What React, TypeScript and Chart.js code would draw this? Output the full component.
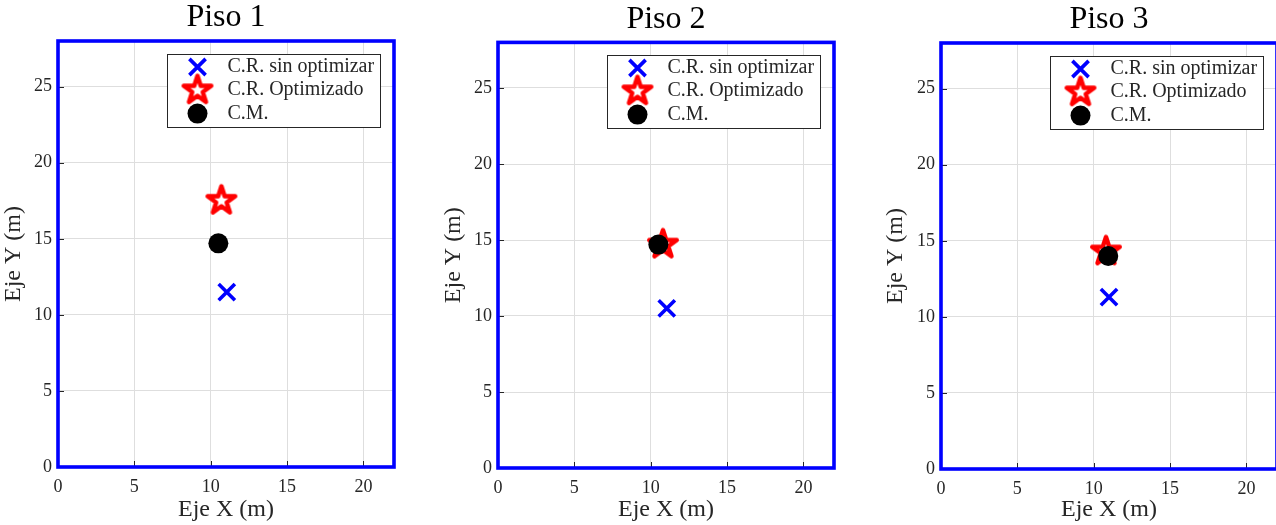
import React, { useEffect, useRef } from 'react';
import { Chart, registerables } from 'chart.js';
import { drawPoint } from 'chart.js/helpers';

Chart.register(...registerables);

// ---------- data ----------
const floorTitles = ['Piso 1', 'Piso 2', 'Piso 3'];
const legendLabels = ['C.R. sin optimizar', 'C.R. Optimizado', 'C.M.'];
const crSinOptX = [11.05, 11.05, 11.0];
const crSinOptY = [11.5, 10.5, 11.3];
const crOptX = [10.7, 10.8, 10.8];
const crOptY = [17.5, 14.7, 14.3];
const cmX = [10.5, 10.5, 10.95];
const cmY = [14.7, 14.7, 14.0];
const xTicks = [0, 5, 10, 15, 20];
const yTicks = [0, 5, 10, 15, 20, 25];
const xLimits = [0, 22];
const yLimits = [0, 28];
const xAxisLabel = 'Eje X (m)';
const yAxisLabel = 'Eje Y (m)';

// ---------- styles / layout ----------
const SERIF = '"Liberation Serif", "Times New Roman", serif';
const INK = '#262626';
const panels = [
  { left: 0, width: 430, padTop: 0, padRight: 36, yWidth: 58, xHeight: 58 },
  { left: 440, width: 430, padTop: 1.4, padRight: 36, yWidth: 58, xHeight: 57 },
  { left: 882, width: 430, padTop: 2, padRight: 35, yWidth: 59, xHeight: 56 },
];

function makeStar(): HTMLCanvasElement {
  const R = 14.5;
  const r = R * 0.382;
  const lw = 4.4;
  const size = Math.ceil(2 * (R + lw));
  const c = document.createElement('canvas');
  c.width = size;
  c.height = size;
  const g = c.getContext('2d')!;
  const cx = size / 2;
  const cy = size / 2;
  g.beginPath();
  for (let k = 0; k < 10; k++) {
    const rad = k % 2 === 0 ? R : r;
    const ang = -Math.PI / 2 + (k * Math.PI) / 5;
    const px = cx + rad * Math.cos(ang);
    const py = cy + rad * Math.sin(ang);
    if (k === 0) g.moveTo(px, py);
    else g.lineTo(px, py);
  }
  g.closePath();
  g.fillStyle = '#ffffff';
  g.fill();
  g.lineJoin = 'round';
  g.lineWidth = lw;
  g.strokeStyle = '#ff0000';
  g.stroke();
  return c;
}

const framePlugin = {
  id: 'frameAndLegend',
  afterDraw(chart: any) {
    const { ctx, chartArea: a, scales } = chart;
    ctx.save();
    // inward tick marks
    ctx.strokeStyle = INK;
    ctx.lineWidth = 1;
    ctx.beginPath();
    xTicks.forEach((v) => {
      if (v > xLimits[0] && v < xLimits[1]) {
        const px = Math.round(scales.x.getPixelForValue(v)) + 0.5;
        ctx.moveTo(px, a.bottom);
        ctx.lineTo(px, a.bottom - 6);
      }
    });
    yTicks.forEach((v) => {
      if (v > yLimits[0] && v < yLimits[1]) {
        const py = Math.round(scales.y.getPixelForValue(v)) + 0.5;
        ctx.moveTo(a.left, py);
        ctx.lineTo(a.left + 6, py);
      }
    });
    ctx.stroke();
    // blue frame
    ctx.strokeStyle = '#0000ff';
    ctx.lineWidth = 3.6;
    ctx.strokeRect(a.left, a.top, a.right - a.left, a.bottom - a.top);
    // legend
    ctx.font = `20px ${SERIF}`;
    const labels = chart.data.datasets.map((d: any) => d.label);
    const maxW = Math.max(...labels.map((t: string) => ctx.measureText(t).width));
    const boxW = Math.round(60 + maxW + 6);
    const boxH = 73;
    const bx = Math.round(a.right - 14 - boxW) + 0.5;
    const by = Math.round(a.top + 13) + 0.5;
    ctx.fillStyle = '#ffffff';
    ctx.fillRect(bx, by, boxW, boxH);
    ctx.strokeStyle = INK;
    ctx.lineWidth = 1;
    ctx.strokeRect(bx, by, boxW, boxH);
    chart.data.datasets.forEach((ds: any, i: number) => {
      const base = by + 17.5 + 23.3 * i;
      ctx.save();
      ctx.fillStyle = ds.backgroundColor;
      ctx.strokeStyle = ds.borderColor;
      ctx.lineWidth = ds.borderWidth;
      drawPoint(ctx, { pointStyle: ds.pointStyle, radius: ds.pointRadius, borderWidth: ds.borderWidth, rotation: 0 } as any, bx + 30, base - 5);
      ctx.restore();
      ctx.fillStyle = INK;
      ctx.textAlign = 'left';
      ctx.textBaseline = 'alphabetic';
      ctx.fillText(ds.label, bx + 60, base);
    });
    ctx.restore();
  },
};

function Panel({ index }: { index: number }) {
  const ref = useRef<HTMLCanvasElement>(null);
  const p = panels[index];
  useEffect(() => {
    if (!ref.current) return;
    const starImg = makeStar();
    const chart = new Chart(ref.current, {
      type: 'scatter',
      data: {
        datasets: [
          {
            label: legendLabels[0],
            data: [{ x: crSinOptX[index], y: crSinOptY[index] }],
            pointStyle: 'crossRot',
            pointRadius: 11.5,
            pointHoverRadius: 11.5,
            borderColor: '#0000ff',
            backgroundColor: '#0000ff',
            borderWidth: 3.6,
            pointBorderWidth: 3.6,
            order: 2,
          } as any,
          {
            label: legendLabels[1],
            data: [{ x: crOptX[index], y: crOptY[index] }],
            pointStyle: starImg,
            pointRadius: 14,
            borderColor: '#ff0000',
            backgroundColor: '#ff0000',
            borderWidth: 0,
            order: 1,
          } as any,
          {
            label: legendLabels[2],
            data: [{ x: cmX[index], y: cmY[index] }],
            pointStyle: 'circle',
            pointRadius: 10,
            pointHoverRadius: 10,
            backgroundColor: '#000000',
            borderColor: '#000000',
            borderWidth: 0,
            order: 0,
          } as any,
        ],
      },
      options: {
        animation: false,
        responsive: false,
        maintainAspectRatio: false,
        events: [],
        layout: { padding: { top: p.padTop, right: p.padRight, left: 0, bottom: 0 } },
        plugins: {
          legend: { display: false },
          tooltip: { enabled: false },
          title: {
            display: true,
            text: floorTitles[index],
            fullSize: false,
            color: '#000000',
            font: { family: SERIF, size: 32, weight: 'normal', lineHeight: 1 },
            padding: { top: 2, bottom: 7 },
          },
        },
        scales: {
          x: {
            type: 'linear',
            min: xLimits[0],
            max: xLimits[1],
            afterFit: (s: any) => {
              s.height = p.xHeight;
              s.paddingLeft = 0;
              s.paddingRight = 0;
            },
            afterBuildTicks: (s: any) => {
              s.ticks = xTicks.map((v) => ({ value: v }));
            },
            ticks: {
              autoSkip: false,
              maxRotation: 0,
              minRotation: 0,
              includeBounds: false,
              padding: 9,
              color: INK,
              font: { family: SERIF, size: 18 },
            },
            grid: { color: '#dedede', lineWidth: 1, drawTicks: false },
            border: { display: false },
            title: {
              display: true,
              text: xAxisLabel,
              color: INK,
              font: { family: SERIF, size: 24 },
              padding: { top: 0, bottom: 1 },
            },
          },
          y: {
            type: 'linear',
            min: yLimits[0],
            max: yLimits[1],
            afterFit: (s: any) => {
              s.width = p.yWidth;
              s.paddingTop = 0;
              s.paddingBottom = 0;
            },
            afterBuildTicks: (s: any) => {
              s.ticks = yTicks.map((v) => ({ value: v }));
            },
            ticks: {
              autoSkip: false,
              includeBounds: false,
              padding: 6,
              color: INK,
              font: { family: SERIF, size: 18 },
            },
            grid: { color: '#dedede', lineWidth: 1, drawTicks: false },
            border: { display: false },
            title: {
              display: true,
              text: yAxisLabel,
              color: INK,
              font: { family: SERIF, size: 24, lineHeight: 1 },
              padding: { top: 2, bottom: 0 },
            },
          },
        },
      } as any,
      plugins: [framePlugin as any],
    });
    return () => chart.destroy();
  }, [index]);
  return (
    <div style={{ position: 'absolute', left: p.left, top: 0, width: p.width, height: 525 }}>
      <canvas ref={ref} width={p.width} height={525} style={{ display: 'block', width: p.width, height: 525 }} />
    </div>
  );
}

export default function App() {
  return (
    <div
      style={{
        position: 'fixed',
        left: 0,
        top: 0,
        width: 1276,
        height: 525,
        overflow: 'hidden',
        background: '#ffffff',
      }}
    >
      {panels.map((_, i) => (
        <Panel key={i} index={i} />
      ))}
    </div>
  );
}
